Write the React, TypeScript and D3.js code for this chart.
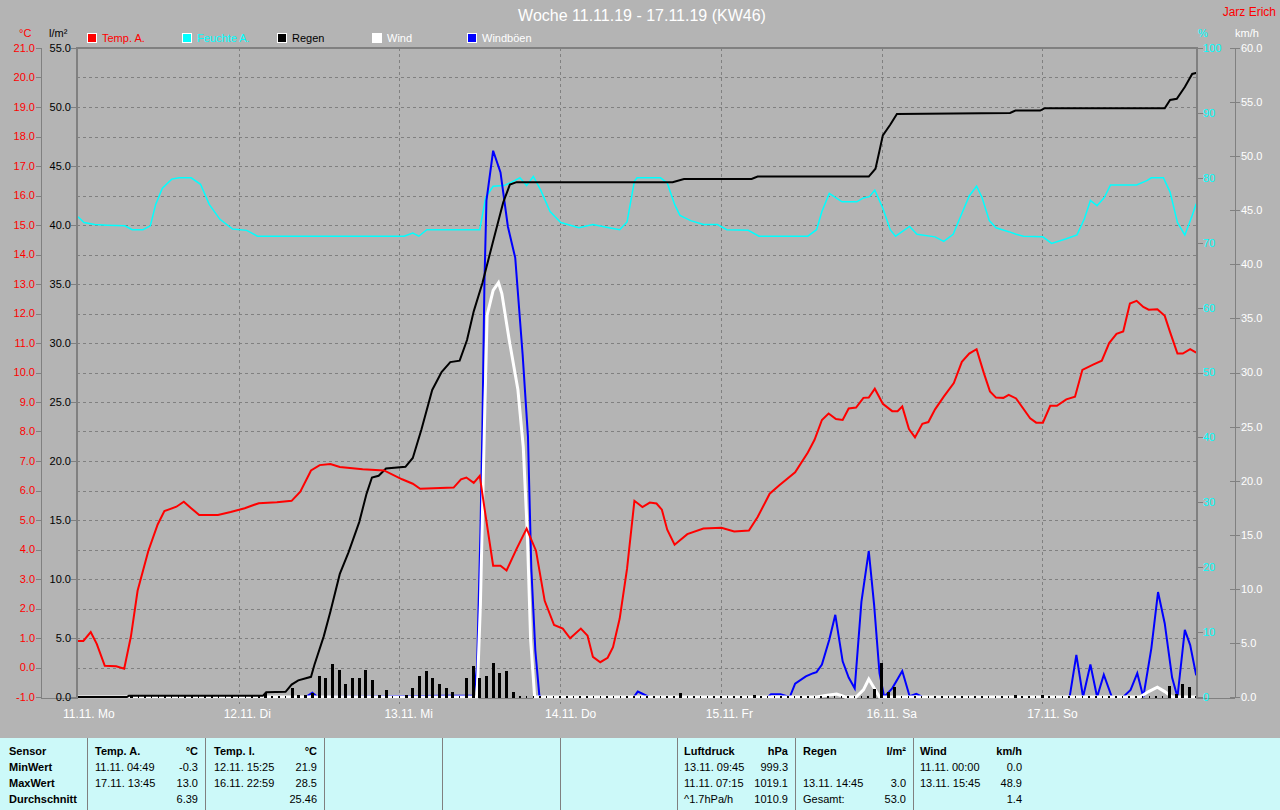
import React from 'react';
import * as d3 from 'd3';

// ---------- DATA ----------
const chartTitle = 'Woche 11.11.19 - 17.11.19 (KW46)';
const author = 'Jarz Erich';
const dayLabels = ['11.11. Mo', '12.11. Di', '13.11. Mi', '14.11. Do', '15.11. Fr', '16.11. Sa', '17.11. So'];
const legendNames = ['Temp. A.', 'Feuchte A.', 'Regen', 'Wind', 'Windböen'];

// [hour since 11.11. 00:00, value]
const tempA: [number, number][] = [
  [0, 0.9], [0.8, 0.9], [1.9, 1.2], [2.8, 0.8], [4.0, 0.06], [5.7, 0.04], [6.9, -0.04], [7.9, 1.05], [8.9, 2.6],
  [10.5, 3.95], [11.9, 4.85], [12.9, 5.3], [14.7, 5.45], [15.8, 5.62], [16.9, 5.4], [18.1, 5.17], [20.9, 5.17],
  [22.8, 5.27], [24.9, 5.4], [27.0, 5.57], [29.7, 5.6], [31.9, 5.65], [33.2, 5.96], [34.8, 6.68], [36.1, 6.86],
  [37.7, 6.9], [39.1, 6.8], [42.5, 6.72], [45.7, 6.68], [48.4, 6.38], [50.0, 6.23], [51.1, 6.06], [56.1, 6.1],
  [57.2, 6.38], [58.0, 6.44], [59.1, 6.26], [60.0, 6.5], [60.7, 5.41], [62.0, 3.45], [63.1, 3.45], [64.0, 3.29],
  [65.5, 4.02], [67.0, 4.71], [68.4, 3.96], [69.7, 2.26], [71.1, 1.44], [72.4, 1.32], [73.5, 0.99], [75.1, 1.32],
  [76.1, 1.08], [76.9, 0.36], [78.0, 0.18], [79.1, 0.33], [79.9, 0.69], [80.9, 1.66], [82.0, 3.35], [83.1, 5.65],
  [84.3, 5.44], [85.4, 5.59], [86.4, 5.56], [87.2, 5.35], [88.0, 4.67], [89.1, 4.16], [91.0, 4.52], [93.4, 4.71],
  [96.1, 4.74], [98.0, 4.61], [100.2, 4.64], [101.5, 5.1], [103.3, 5.89], [104.7, 6.17], [107.1, 6.62], [109.0, 7.29],
  [110.0, 7.72], [111.1, 8.39], [112.1, 8.61], [113.2, 8.42], [114.2, 8.39], [115.1, 8.78], [116.2, 8.81],
  [117.3, 9.14], [118.1, 9.15], [119.0, 9.45], [120.2, 8.94], [121.6, 8.69], [122.4, 8.69], [123.1, 8.85],
  [124.1, 8.08], [125.0, 7.8], [126.1, 8.26], [127.0, 8.32], [128.0, 8.75], [129.3, 9.18], [130.8, 9.64],
  [132.0, 10.36], [133.1, 10.64], [134.2, 10.79], [135.3, 9.97], [136.2, 9.36], [137.1, 9.15], [138.2, 9.14],
  [139.0, 9.24], [140.1, 9.12], [142.2, 8.45], [143.1, 8.3], [144.1, 8.3], [145.2, 8.87], [146.2, 8.87],
  [147.6, 9.09], [148.9, 9.18], [150.0, 10.09], [151.6, 10.27], [152.9, 10.4], [154.0, 11.0], [155.1, 11.31],
  [156.1, 11.39], [157.1, 12.34], [158.1, 12.43], [159.1, 12.22], [159.9, 12.13], [161.2, 12.14], [162.3, 11.92],
  [163.1, 11.37], [164.2, 10.64], [165.0, 10.64], [166.1, 10.79], [167.0, 10.67],
];

const humidityA: [number, number][] = [
  [0, 74.0], [0.9, 73.1], [2.5, 72.8], [4.4, 72.7], [7.0, 72.6], [8.1, 72.0], [9.7, 72.0], [10.8, 72.6], [11.6, 75.9],
  [12.6, 78.4], [14.0, 79.8], [15.1, 80.0], [16.9, 80.0], [18.3, 79.0], [19.6, 75.9], [21.2, 73.6], [23.1, 72.1],
  [25.2, 71.9], [26.8, 71.0], [48.7, 71.0], [50.0, 71.5], [50.9, 71.0], [52.1, 72.0], [60.0, 72.0], [60.9, 77.0],
  [62.0, 78.7], [63.6, 78.8], [64.7, 79.3], [66.0, 80.0], [67.0, 78.8], [68.0, 80.2], [69.1, 78.1], [70.5, 74.8],
  [72.1, 73.1], [74.8, 72.3], [76.9, 72.8], [79.3, 72.3], [80.9, 72.0], [82.0, 73.2], [83.1, 79.5], [83.5, 80.0],
  [87.0, 80.0], [88.0, 79.2], [89.1, 75.9], [89.9, 74.2], [91.5, 73.4], [93.4, 72.8], [95.5, 72.8], [96.9, 72.0],
  [100.1, 71.9], [101.7, 71.0], [109.0, 71.0], [110.3, 72.0], [111.1, 74.8], [112.2, 77.6], [114.1, 76.3],
  [116.3, 76.3], [117.3, 76.9], [118.2, 77.1], [119.0, 78.1], [120.2, 75.3], [121.3, 72.0], [122.1, 71.0],
  [124.2, 72.5], [125.3, 71.3], [128.0, 70.9], [129.3, 70.2], [130.7, 71.3], [132.0, 74.5], [133.1, 77.2],
  [134.2, 78.7], [135.0, 77.0], [136.1, 73.4], [137.1, 72.3], [139.0, 71.7], [140.1, 71.3], [141.2, 71.0],
  [144.1, 70.9], [145.4, 69.9], [147.6, 70.6], [149.2, 71.2], [150.3, 73.7], [151.2, 76.5], [152.2, 75.7],
  [153.3, 77.0], [154.2, 78.9], [158.1, 78.9], [159.7, 79.6], [160.3, 80.0], [162.1, 80.0], [163.1, 77.8],
  [164.2, 73.1], [165.3, 71.2], [166.4, 74.2], [167.0, 76.0],
];

const rainTotal: [number, number][] = [
  [0, 0], [7.3, 0], [7.6, 0.1], [27.6, 0.1], [28.1, 0.4], [31.0, 0.44], [31.9, 1.05], [32.9, 1.41], [34.8, 1.71],
  [35.3, 2.71], [36.7, 5.14], [37.7, 7.25], [39.1, 10.43], [40.4, 12.25], [42.0, 14.82], [43.1, 17.24], [43.9, 18.6],
  [44.9, 18.75], [46.0, 19.36], [48.9, 19.51], [50.0, 20.26], [51.3, 22.69], [52.9, 26.02], [54.3, 27.53],
  [55.6, 28.38], [57.0, 28.5], [58.1, 30.25], [59.1, 32.68], [60.4, 35.09], [61.9, 38.42], [63.5, 41.91],
  [64.5, 43.42], [65.5, 43.63], [88.8, 43.63], [90.5, 43.9], [100.6, 43.9], [101.5, 44.1], [118.1, 44.1],
  [119.1, 44.77], [119.7, 46.3], [120.2, 47.6], [121.3, 48.5], [122.3, 49.4], [139.2, 49.5], [140.0, 49.7],
  [143.7, 49.7], [144.4, 49.9], [162.3, 49.9], [163.1, 50.6], [164.1, 50.7], [165.3, 51.7], [166.4, 52.8],
  [167.1, 52.9],
];

// hourly rain amounts (hour index, l/m²), hours not listed had no rain
const rainHours = [8, 28, 32, 33, 34, 35, 36, 37, 38, 39, 40, 41, 42, 43, 44, 45, 46, 49, 50, 51, 52, 53, 54, 55, 56,
  58, 59, 60, 61, 62, 63, 64, 65, 90, 101, 119, 120, 121, 122, 140, 144, 163, 164, 165, 166];
const rainAmounts = [0.1, 0.3, 0.74, 0.14, 0.14, 0.3, 1.74, 1.65, 2.77, 2.32, 1.14, 1.59, 1.59, 2.32, 1.41, 0.14, 0.6,
  0.14, 0.74, 1.74, 2.17, 1.59, 1.14, 0.74, 0.44, 1.59, 2.62, 1.59, 1.74, 2.92, 2.01, 2.17, 0.44, 0.3, 0.2, 0.65,
  2.85, 0.4, 0.85, 0.2, 0.2, 0.9, 0.25, 1.07, 0.85];

const windGust: [number, number][] = [
  [0, 0], [34.0, 0], [35.0, 0.4], [35.8, 0], [59.1, 0.15], [59.6, 2.8], [60.1, 15.2], [60.4, 25.1], [60.7, 38.3],
  [61.0, 45.9], [62.0, 50.5], [63.1, 48.5], [64.2, 43.5], [65.3, 40.6], [66.4, 31.7], [67.2, 24.1], [67.7, 11.9],
  [68.3, 4.3], [68.9, 0.15], [69.2, 0], [83.0, 0], [83.6, 0.5], [84.3, 0.3], [85.3, 0], [103.0, 0], [103.5, 0.25],
  [104.9, 0.25], [106.3, 0], [107.1, 1.23], [108.7, 1.9], [109.8, 2.2], [110.3, 2.3], [111.1, 3.0], [112.2, 5.3],
  [113.1, 7.6], [114.2, 3.3], [115.1, 1.8], [116.0, 0.8], [117.0, 8.8], [118.1, 13.5], [118.9, 8.5], [119.7, 2.2],
  [120.4, 0], [121.6, 0.8], [123.1, 2.4], [124.2, 0.07], [125.2, 0.3], [126.1, 0], [148.1, 0], [149.1, 3.9],
  [150.1, 0], [151.2, 3.0], [152.2, 0], [153.2, 2.06], [154.4, 0], [156.1, 0], [157.2, 0.66], [158.2, 2.2],
  [159.1, 0], [160.3, 4.5], [161.3, 9.7], [162.3, 6.8], [163.4, 1.8], [164.2, 0], [165.3, 6.2], [166.1, 4.8],
  [167.0, 2.0],
];

const windAvg: [number, number][] = [
  [0, 0], [59.6, 0], [60.1, 8.6], [60.7, 25.1], [61.1, 35.3], [62.0, 37.6], [62.8, 38.3], [63.3, 37.3], [64.4, 33.0],
  [65.7, 28.4], [66.5, 23.1], [67.1, 15.2], [67.6, 5.3], [68.2, 0], [110.3, 0], [111.9, 0.17], [113.3, 0.27],
  [114.6, 0], [116.2, 0], [117.3, 0.66], [118.1, 1.66], [118.9, 0.83], [119.7, 0], [158.6, 0], [159.9, 0.5],
  [161.2, 0.9], [162.3, 0.5], [163.4, 0], [167.0, 0],
];

// statistics table
const tableRowLabels = ['Sensor', 'MinWert', 'MaxWert', 'Durchschnitt'];
const tableHeads = ['Temp. A.', 'Temp. I.', 'Luftdruck', 'Regen', 'Wind'];
const tableUnits = ['°C', '°C', 'hPa', 'l/m²', 'km/h'];
const tableDates = [
  ['11.11.  04:49', '17.11.  13:45', ''],
  ['12.11.  15:25', '16.11.  22:59', ''],
  ['13.11.  09:45', '11.11.  07:15', '^1.7hPa/h'],
  ['', '13.11.  14:45', 'Gesamt:'],
  ['11.11.  00:00', '13.11.  15:45', ''],
];
const tableValues = [
  ['-0.3', '13.0', '6.39'],
  ['21.9', '28.5', '25.46'],
  ['999.3', '1019.1', '1010.9'],
  ['', '3.0', '53.0'],
  ['0.0', '48.9', '1.4'],
];

// ---------- STYLE / LAYOUT ----------
const FONT = "'Liberation Sans', Arial, Helvetica, sans-serif";
const BG = '#b4b4b4';
const GRID = '#808080';
const C_TEMP = '#ff0000';
const C_HUM = '#00ffff';
const C_RAIN = '#000000';
const C_WIND = '#ffffff';
const C_GUST = '#0000ff';
const legendFill = [C_TEMP, C_HUM, C_RAIN, C_WIND, C_GUST];
const legendText = [C_TEMP, C_HUM, C_RAIN, C_WIND, C_WIND];
const tableColLeft = [95, 214, 684, 803, 920];
const tableColRight = [198, 317, 788, 906, 1022];
const tableDividers = [87, 205, 324, 442, 560, 677, 795, 913];
const tableRowY = [755, 771, 787, 803];

const PL = 77, PR = 1197, PT = 48, PB = 697;

export default function App() {
  const x = d3.scaleLinear().domain([0, 168]).range([78, 78 + 7 * 160.7]);
  const yT = d3.scaleLinear().domain([-1, 21]).range([PB, PT]);
  const yR = d3.scaleLinear().domain([0, 55]).range([PB, PT]);
  const yH = d3.scaleLinear().domain([0, 100]).range([PB, PT]);
  const yW = d3.scaleLinear().domain([0, 60]).range([PB, PT]);

  const mk = (ys: d3.ScaleLinear<number, number>) =>
    d3.line<[number, number]>().x((d) => x(d[0])).y((d) => ys(d[1]));

  const rainMap = new Map<number, number>(rainHours.map((h, i) => [h, rainAmounts[i]]));
  const rainHourly = d3.range(0, 168).map((h) => ({ h, v: rainMap.get(h) ?? 0 }));

  const tTicks = yT.ticks(22);
  const rTicks = yR.ticks(11);
  const hTicks = yH.ticks(10);
  const wTicks = yW.ticks(12);
  const days = d3.range(0, 7);

  return (
    <svg width={1280} height={810} style={{ position: 'absolute', left: 0, top: 0, display: 'block' }}
      fontFamily={FONT}>
      <defs>
        <clipPath id="plotClip">
          <rect x={PL} y={PT - 2} width={PR - PL} height={PB - PT + 4} />
        </clipPath>
      </defs>
      <rect x={0} y={0} width={1280} height={810} fill={BG} />

      {/* title */}
      <text x={642} y={21} textAnchor="middle" fill="#ffffff" fontSize={16}>{chartTitle}</text>
      <text x={1276} y={16} textAnchor="end" fill={C_TEMP} fontSize={12}>{author}</text>

      {/* axis headers */}
      <text x={19} y={37} fill={C_TEMP} fontSize={11}>°C</text>
      <text x={49} y={37} fill="#000" fontSize={11}>l/m²</text>
      <text x={1198} y={37} fill={C_HUM} fontSize={11}>%</text>
      <text x={1235} y={37} fill="#fff" fontSize={11}>km/h</text>

      {/* legend */}
      {legendNames.map((n, i) => (
        <g key={n}>
          <rect x={87.5 + i * 95} y={33.5} width={9} height={9} fill={legendFill[i]} stroke="#ffffff" strokeWidth={1} />
          <text x={102 + i * 95} y={42} fill={legendText[i]} fontSize={11}>{n}</text>
        </g>
      ))}

      {/* grid */}
      <g stroke={GRID} strokeWidth={1} strokeDasharray="3,3" shapeRendering="crispEdges">
        {tTicks.filter((t) => t > -1 && t < 21).map((t) => (
          <line key={'h' + t} x1={PL} x2={PR} y1={Math.round(yT(t)) + 0.5} y2={Math.round(yT(t)) + 0.5} />
        ))}
        {days.slice(1).map((d) => (
          <line key={'v' + d} x1={Math.round(x(d * 24)) + 0.5} x2={Math.round(x(d * 24)) + 0.5} y1={PT} y2={704} />
        ))}
      </g>

      {/* axes */}
      <g stroke={GRID} shapeRendering="crispEdges">
        <line x1={41.5} x2={41.5} y1={PT} y2={PB + 1} strokeWidth={1} />
        <line x1={41} x2={1235} y1={PB + 1.5} y2={PB + 1.5} strokeWidth={1.5} />
        <line x1={1235.5} x2={1235.5} y1={PT} y2={PB + 1} strokeWidth={1} />
        {tTicks.map((t) => (
          <line key={'tt' + t} x1={36} x2={41} y1={Math.round(yT(t)) + 0.5} y2={Math.round(yT(t)) + 0.5} />
        ))}
        {rTicks.map((t) => (
          <line key={'rt' + t} x1={71} x2={77} y1={Math.round(yR(t)) + 0.5} y2={Math.round(yR(t)) + 0.5} />
        ))}
        {hTicks.map((t) => (
          <line key={'ht' + t} x1={1197} x2={1203} y1={Math.round(yH(t)) + 0.5} y2={Math.round(yH(t)) + 0.5} />
        ))}
        {wTicks.map((t) => (
          <line key={'wt' + t} x1={1230} x2={1240} y1={Math.round(yW(t)) + 0.5} y2={Math.round(yW(t)) + 0.5} />
        ))}
      </g>

      {/* tick labels */}
      <g fontSize={11}>
        {tTicks.map((t) => (
          <text key={'tl' + t} x={35} y={yT(t)} dy="0.36em" textAnchor="end" fill={C_TEMP}>{t.toFixed(1)}</text>
        ))}
        {rTicks.map((t) => (
          <text key={'rl' + t} x={71} y={yR(t)} dy="0.36em" textAnchor="end" fill="#000">{t.toFixed(1)}</text>
        ))}
        {hTicks.map((t) => (
          <text key={'hl' + t} x={1203} y={yH(t)} dy="0.36em" fill={C_HUM}>{String(t)}</text>
        ))}
        {wTicks.map((t) => (
          <text key={'wl' + t} x={1241} y={yW(t)} dy="0.36em" fill="#fff">{t.toFixed(1)}</text>
        ))}
        {dayLabels.map((l, i) => (
          <text key={l} x={x(i * 24) - 15} y={718} fill="#fff" fontSize={12} style={{ whiteSpace: 'pre' }}>{l}</text>
        ))}
      </g>

      {/* series */}
      <g clipPath="url(#plotClip)" fill="none" strokeLinejoin="miter">
        <path d={mk(yH)(humidityA) ?? ''} stroke={C_HUM} strokeWidth={1.5} />
        <path d={mk(yW)(windGust) ?? ''} stroke={C_GUST} strokeWidth={2} />
        <path d={mk(yW)(windAvg) ?? ''} stroke={C_WIND} strokeWidth={3} />
        <g fill={C_RAIN} stroke="none" shapeRendering="crispEdges">
          {rainHourly.map((d) => {
            const top = yR(d.v);
            const h = Math.max(2, PB + 1 - top);
            const w = d.v > 0 ? 3 : 1.5;
            return <rect key={'b' + d.h} x={x(d.h) - w / 2} y={PB + 1 - h} width={w} height={h} />;
          })}
        </g>
        <path d={mk(yR)(rainTotal) ?? ''} stroke={C_RAIN} strokeWidth={2} />
        <path d={mk(yT)(tempA) ?? ''} stroke={C_TEMP} strokeWidth={2} />
      </g>

      {/* plot frame */}
      <g stroke={GRID} strokeWidth={2} shapeRendering="crispEdges">
        <line x1={PL} x2={PL} y1={PT - 1} y2={PB + 1} />
        <line x1={PL} x2={PR} y1={PT} y2={PT} />
        <line x1={PR} x2={PR} y1={PT - 1} y2={PB + 1} />
      </g>

      {/* statistics table */}
      <rect x={0} y={738} width={1280} height={72} fill="#ccf9f9" />
      <g stroke={GRID} strokeWidth={1} shapeRendering="crispEdges">
        {tableDividers.map((dx) => (
          <line key={'d' + dx} x1={dx + 0.5} x2={dx + 0.5} y1={738} y2={810} />
        ))}
      </g>
      <g fontSize={11} fill="#000" style={{ whiteSpace: 'pre' }}>
        {tableRowLabels.map((l, i) => (
          <text key={l} x={9} y={tableRowY[i]} fontWeight="bold">{l}</text>
        ))}
        {tableHeads.map((hd, c) => (
          <g key={hd + c}>
            <text x={tableColLeft[c]} y={tableRowY[0]} fontWeight="bold">{hd}</text>
            <text x={tableColRight[c]} y={tableRowY[0]} fontWeight="bold" textAnchor="end">{tableUnits[c]}</text>
            {tableDates[c].map((dt, r) => (
              <text key={'dt' + r} x={tableColLeft[c]} y={tableRowY[r + 1]}>{dt}</text>
            ))}
            {tableValues[c].map((v, r) => (
              <text key={'v' + r} x={tableColRight[c]} y={tableRowY[r + 1]} textAnchor="end">{v}</text>
            ))}
          </g>
        ))}
      </g>
    </svg>
  );
}
